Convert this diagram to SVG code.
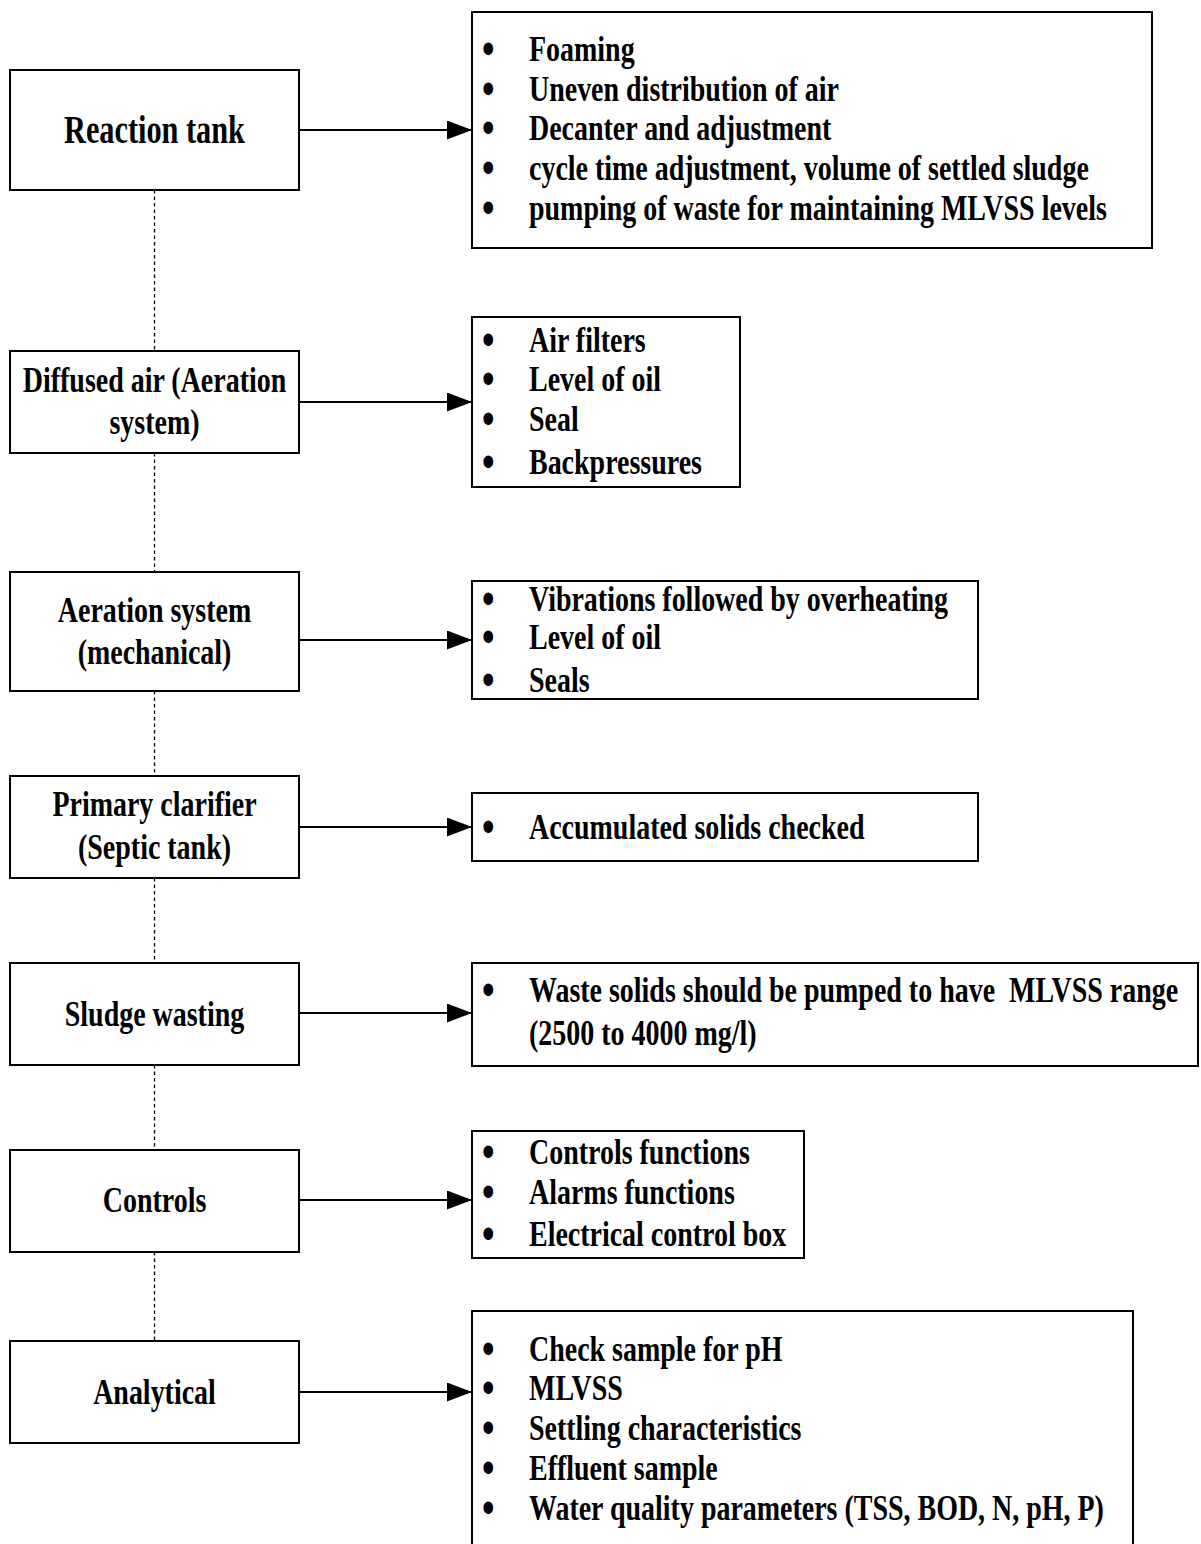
<svg xmlns="http://www.w3.org/2000/svg" width="1201" height="1544" viewBox="0 0 1201 1544">
<defs>
<style>
.box{fill:#fff;stroke:#000;stroke-width:2}
.t{font-family:"Liberation Serif","Times New Roman",serif;font-weight:bold;font-size:36px;fill:#000}
.b{font-family:"Liberation Serif","Times New Roman",serif;font-weight:bold;font-size:46px;fill:#000}
.c{text-anchor:middle}
.big{font-size:39px}
.dot{stroke:#000;stroke-width:1.3;stroke-dasharray:3.5 3;fill:none}
.arr{stroke:#000;stroke-width:2;fill:none;marker-end:url(#ah)}
</style>
<marker id="ah" viewBox="0 0 25 19" refX="25" refY="9.5" markerWidth="25" markerHeight="19" markerUnits="userSpaceOnUse" orient="auto">
<path d="M0,0 L25,9.5 L0,19 Z" fill="#000"/>
</marker>
</defs>
<rect width="1201" height="1544" fill="#fff"/>

<g id="connectors">
<line class="dot" x1="154.5" y1="190" x2="154.5" y2="350"/>
<line class="dot" x1="154.5" y1="453" x2="154.5" y2="572"/>
<line class="dot" x1="154.5" y1="691" x2="154.5" y2="776"/>
<line class="dot" x1="154.5" y1="878" x2="154.5" y2="963"/>
<line class="dot" x1="154.5" y1="1065" x2="154.5" y2="1150"/>
<line class="dot" x1="154.5" y1="1252" x2="154.5" y2="1341"/>
<line class="arr" x1="299" y1="130" x2="472" y2="130"/>
<line class="arr" x1="299" y1="402" x2="472" y2="402"/>
<line class="arr" x1="299" y1="640" x2="472" y2="640"/>
<line class="arr" x1="299" y1="827" x2="472" y2="827"/>
<line class="arr" x1="299" y1="1013" x2="472" y2="1013"/>
<line class="arr" x1="299" y1="1200" x2="472" y2="1200"/>
<line class="arr" x1="299" y1="1392" x2="472" y2="1392"/>
</g>

<g id="reaction-tank">
<rect class="box" x="10" y="70" width="289" height="120"/>
<text class="t c big" transform="matrix(0.777 0 0 1 154.5 143)">Reaction tank</text>
</g>
<g id="reaction-tank-list">
<rect class="box" x="472" y="12" width="680" height="236"/>
<text class="b" transform="matrix(0.777 0 0 1 482 64)">•</text>
<text class="t" transform="matrix(0.777 0 0 1 529 61)">Foaming</text>
<text class="b" transform="matrix(0.777 0 0 1 482 104)">•</text>
<text class="t" transform="matrix(0.777 0 0 1 529 101)">Uneven distribution of air</text>
<text class="b" transform="matrix(0.777 0 0 1 482 143)">•</text>
<text class="t" transform="matrix(0.777 0 0 1 529 140)">Decanter and adjustment</text>
<text class="b" transform="matrix(0.777 0 0 1 482 183)">•</text>
<text class="t" transform="matrix(0.777 0 0 1 529 180)">cycle time adjustment, volume of settled sludge</text>
<text class="b" transform="matrix(0.777 0 0 1 482 223)">•</text>
<text class="t" transform="matrix(0.777 0 0 1 529 220)">pumping of waste for maintaining MLVSS levels</text>
</g>

<g id="diffused-air">
<rect class="box" x="10" y="351" width="289" height="102"/>
<text class="t c" transform="matrix(0.777 0 0 1 154.5 392)">Diffused air (Aeration</text>
<text class="t c" transform="matrix(0.777 0 0 1 154.5 434)">system)</text>
</g>
<g id="diffused-air-list">
<rect class="box" x="472" y="317" width="268" height="170"/>
<text class="b" transform="matrix(0.777 0 0 1 482 355)">•</text>
<text class="t" transform="matrix(0.777 0 0 1 529 352)">Air filters</text>
<text class="b" transform="matrix(0.777 0 0 1 482 394)">•</text>
<text class="t" transform="matrix(0.777 0 0 1 529 391)">Level of oil</text>
<text class="b" transform="matrix(0.777 0 0 1 482 434)">•</text>
<text class="t" transform="matrix(0.777 0 0 1 529 431)">Seal</text>
<text class="b" transform="matrix(0.777 0 0 1 482 477)">•</text>
<text class="t" transform="matrix(0.777 0 0 1 529 474)">Backpressures</text>
</g>

<g id="aeration-mechanical">
<rect class="box" x="10" y="572" width="289" height="119"/>
<text class="t c" transform="matrix(0.777 0 0 1 154.5 622)">Aeration system</text>
<text class="t c" transform="matrix(0.777 0 0 1 154.5 664)">(mechanical)</text>
</g>
<g id="aeration-mechanical-list">
<rect class="box" x="472" y="581" width="506" height="118"/>
<text class="b" transform="matrix(0.777 0 0 1 482 614)">•</text>
<text class="t" transform="matrix(0.777 0 0 1 529 611)">Vibrations followed by overheating</text>
<text class="b" transform="matrix(0.777 0 0 1 482 652)">•</text>
<text class="t" transform="matrix(0.777 0 0 1 529 649)">Level of oil</text>
<text class="b" transform="matrix(0.777 0 0 1 482 695)">•</text>
<text class="t" transform="matrix(0.777 0 0 1 529 692)">Seals</text>
</g>

<g id="primary-clarifier">
<rect class="box" x="10" y="776" width="289" height="102"/>
<text class="t c" transform="matrix(0.777 0 0 1 154.5 816)">Primary clarifier</text>
<text class="t c" transform="matrix(0.777 0 0 1 154.5 859)">(Septic tank)</text>
</g>
<g id="primary-clarifier-list">
<rect class="box" x="472" y="793" width="506" height="68"/>
<text class="b" transform="matrix(0.777 0 0 1 482 842)">•</text>
<text class="t" transform="matrix(0.777 0 0 1 529 839)">Accumulated solids checked</text>
</g>

<g id="sludge-wasting">
<rect class="box" x="10" y="963" width="289" height="102"/>
<text class="t c" transform="matrix(0.777 0 0 1 154.5 1026)">Sludge wasting</text>
</g>
<g id="sludge-wasting-list">
<rect class="box" x="472" y="963" width="726" height="103"/>
<text class="b" transform="matrix(0.777 0 0 1 482 1005)">•</text>
<text class="t" transform="matrix(0.777 0 0 1 529 1002)" xml:space="preserve">Waste solids should be pumped to have  MLVSS range</text>
<text class="t" transform="matrix(0.777 0 0 1 529 1045)">(2500 to 4000 mg/l)</text>
</g>

<g id="controls">
<rect class="box" x="10" y="1150" width="289" height="102"/>
<text class="t c" transform="matrix(0.777 0 0 1 154.5 1212)">Controls</text>
</g>
<g id="controls-list">
<rect class="box" x="472" y="1131" width="332" height="127"/>
<text class="b" transform="matrix(0.777 0 0 1 482 1167)">•</text>
<text class="t" transform="matrix(0.777 0 0 1 529 1164)">Controls functions</text>
<text class="b" transform="matrix(0.777 0 0 1 482 1207)">•</text>
<text class="t" transform="matrix(0.777 0 0 1 529 1204)">Alarms functions</text>
<text class="b" transform="matrix(0.777 0 0 1 482 1249)">•</text>
<text class="t" transform="matrix(0.777 0 0 1 529 1246)">Electrical control box</text>
</g>

<g id="analytical">
<rect class="box" x="10" y="1341" width="289" height="102"/>
<text class="t c" transform="matrix(0.777 0 0 1 154.5 1404)">Analytical</text>
</g>
<g id="analytical-list">
<path class="box" d="M472,1560 L472,1311 L1133,1311 L1133,1560"/>
<text class="b" transform="matrix(0.777 0 0 1 482 1364)">•</text>
<text class="t" transform="matrix(0.777 0 0 1 529 1361)">Check sample for pH</text>
<text class="b" transform="matrix(0.777 0 0 1 482 1403)">•</text>
<text class="t" transform="matrix(0.777 0 0 1 529 1400)">MLVSS</text>
<text class="b" transform="matrix(0.777 0 0 1 482 1443)">•</text>
<text class="t" transform="matrix(0.777 0 0 1 529 1440)">Settling characteristics</text>
<text class="b" transform="matrix(0.777 0 0 1 482 1483)">•</text>
<text class="t" transform="matrix(0.777 0 0 1 529 1480)">Effluent sample</text>
<text class="b" transform="matrix(0.777 0 0 1 482 1523)">•</text>
<text class="t" transform="matrix(0.777 0 0 1 529 1520)">Water quality parameters (TSS, BOD, N, pH, P)</text>
</g>
</svg>
